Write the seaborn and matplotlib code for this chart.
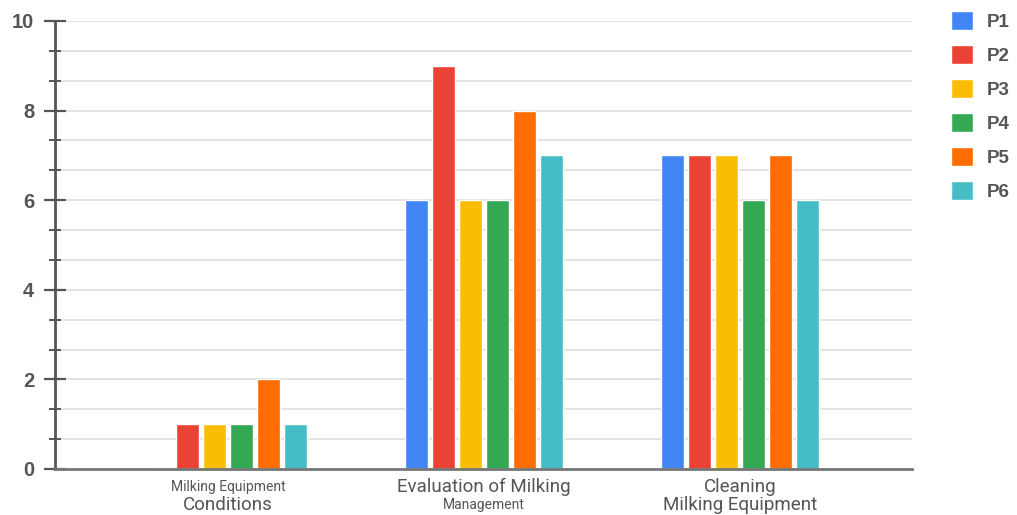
import numpy as np
import pandas as pd
import seaborn as sns
import matplotlib
matplotlib.use("Agg")
import matplotlib.pyplot as plt
import matplotlib.transforms as mtransforms
from matplotlib.ticker import MultipleLocator, FixedLocator

# ---- data ----
categories = ["Milking Equipment Conditions", "Evaluation of Milking Management", "Cleaning Milking Equipment"]
series_names = ["P1", "P2", "P3", "P4", "P5", "P6"]
P1 = [0, 6, 7]
P2 = [1, 9, 7]
P3 = [1, 6, 7]
P4 = [1, 6, 6]
P5 = [2, 8, 7]
P6 = [1, 7, 6]
series_values = [P1, P2, P3, P4, P5, P6]
colors = ["#4285F4", "#EA4335", "#FBBC04", "#34A853", "#FF6D01", "#46BDC6"]

# tick label lines: (text, fontsize)
label_line1 = [("Milking Equipment", 10), ("Evaluation of Milking", 13.5), ("Cleaning", 13.5)]
label_line2 = [("Conditions", 13.5), ("Management", 10), ("Milking Equipment", 13.5)]
y_major = [0, 2, 4, 6, 8, 10]

rows = []
for s, vals in zip(series_names, series_values):
    for c, v in zip(categories, vals):
        rows.append({"category": c, "series": s, "value": v})
df = pd.DataFrame(rows)

sns.set_style("white")
plt.rcParams["font.family"] = ["Roboto", "DejaVu Sans"]

W, H = 1017, 515
fig = plt.figure(figsize=(W / 100, H / 100), dpi=100)
ax = fig.add_axes([55 / W, (H - 469) / H, (912 - 55) / W, (469 - 21) / H])

sns.barplot(data=df, x="category", y="value", hue="series", order=categories,
            hue_order=series_names, palette=colors, width=0.633, gap=0.15,
            saturation=1, ax=ax, legend=True)

ax.set_xlim(-0.676, 2.672)
ax.set_ylim(0, 10)
ax.set_xlabel("")
ax.set_ylabel("")

# y ticks
ax.yaxis.set_major_locator(FixedLocator(y_major))
ax.yaxis.set_minor_locator(MultipleLocator(2 / 3))
ax.set_yticklabels([str(v) for v in y_major])
ax.tick_params(axis="y", which="major", left=True, direction="inout", length=16, width=1.6,
               color="#555555", labelsize=14.5, labelcolor="#555555", pad=7)
ax.tick_params(axis="y", which="minor", left=True, direction="inout", length=8, width=1.4,
               color="#555555")
for lab in ax.get_yticklabels():
    lab.set_fontweight("bold")
    lab.set_family(["Liberation Sans", "DejaVu Sans"])
ax.grid(True, axis="y", which="both", color="#e3e3e3", linewidth=1.4)
ax.set_axisbelow(True)

# x ticks: custom two-line labels
ax.set_xticks(range(len(categories)))
ax.set_xticklabels([""] * len(categories))
ax.tick_params(axis="x", length=0)

trans = mtransforms.blended_transform_factory(ax.transData, fig.transFigure)
for i, ((t1, s1), (t2, s2)) in enumerate(zip(label_line1, label_line2)):
    ax.text(i, 1 - 487 / H, t1, transform=trans, ha="center", va="center",
            fontsize=s1, color="#555555")
    ax.text(i, 1 - 505 / H, t2, transform=trans, ha="center", va="center",
            fontsize=s2, color="#555555")

for side in ["top", "right"]:
    ax.spines[side].set_visible(False)
ax.spines["left"].set_color("#555555")
ax.spines["left"].set_linewidth(2)
ax.spines["bottom"].set_color("#777777")
ax.spines["bottom"].set_linewidth(2)

# legend
handles, labels = ax.get_legend_handles_labels()
ax.legend_.remove()
leg = fig.legend(handles, labels, loc="upper left",
                 bbox_to_anchor=(951 / W, 1 - 11 / H), frameon=False,
                 handlelength=1.18, handleheight=1.18, handletextpad=0.75,
                 labelspacing=0.76, borderpad=0, borderaxespad=0,
                 prop={"family": ["Liberation Sans", "DejaVu Sans"], "size": 13.5, "weight": "bold"})
for t in leg.get_texts():
    t.set_color("#555555")

fig.savefig("out.png", dpi=100)
